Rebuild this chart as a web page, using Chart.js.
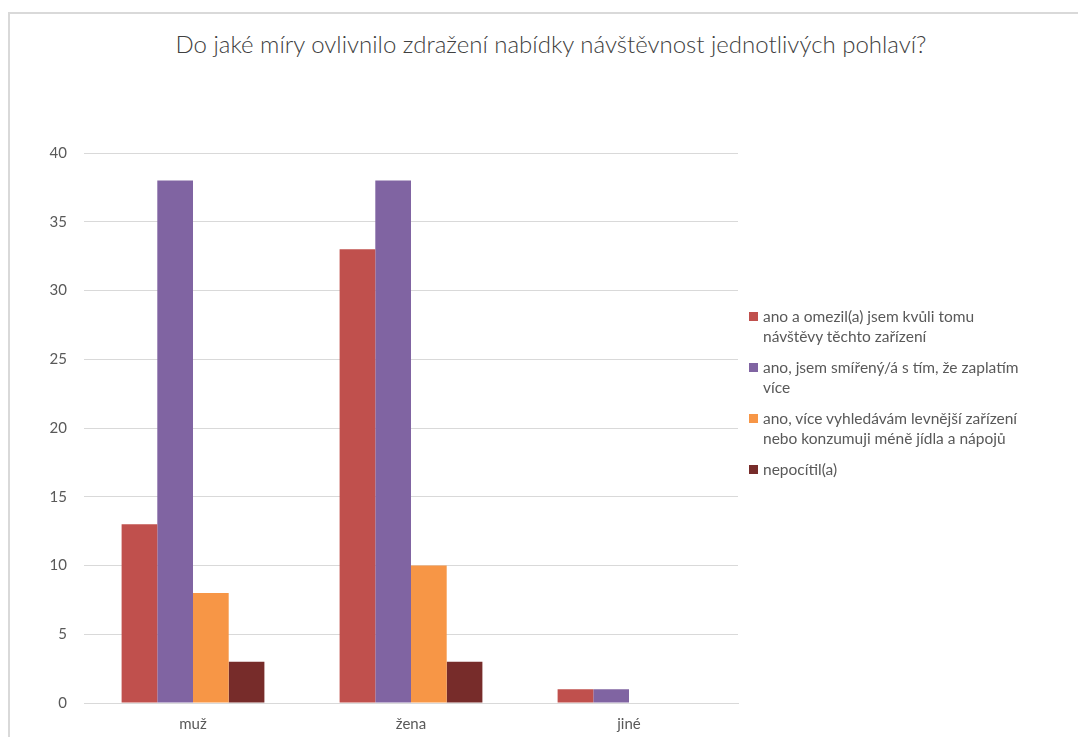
<!DOCTYPE html>
<html>
<head>
<meta charset="utf-8">
<script src="https://cdn.jsdelivr.net/npm/chart.js"></script>
<style>
  html, body { margin: 0; padding: 0; background: #fff; }
  body { width: 1078px; height: 737px; position: relative; overflow: hidden; font-family: Lato, "Open Sans", sans-serif; }
  #frame { position: absolute; left: 8px; top: 12px; width: 1200px; height: 800px; border-top: 2px solid #d9d9d9; border-left: 2px solid #d9d9d9; }
  #title { position: absolute; left: 0; top: 29px; width: 1102px; text-align: center; font-size: 24px; font-weight: 300; color: #404040; white-space: nowrap; }
  #chartWrap { position: absolute; left: 0; top: 0; width: 1078px; height: 737px; }
  #legend { position: absolute; left: 748px; top: 306px; width: 320px; font-size: 15.5px; color: #595959; }
  #legend .item { position: relative; padding-left: 15px; line-height: 20px; margin-bottom: 11px; white-space: pre-line; }
  #legend .sw { position: absolute; left: 1px; top: 6px; width: 9px; height: 9px; }
</style>
</head>
<body>
<div id="frame"></div>
<div id="title">Do jaké míry ovlivnilo zdražení nabídky návštěvnost jednotlivých pohlaví?</div>
<div id="chartWrap"><canvas id="c" width="1078" height="737"></canvas></div>
<div id="legend"></div>
<script>
const categories = ['muž', 'žena', 'jiné'];
const seriesLabels = [
  'ano a omezil(a) jsem kvůli tomu\nnávštěvy těchto zařízení',
  'ano, jsem smířený/á s tím, že zaplatím\nvíce',
  'ano, více vyhledávám levnější zařízení\nnebo konzumuji méně jídla a nápojů',
  'nepocítil(a)'
];
const omezil = [13, 33, 1];
const smireny = [38, 38, 1];
const levnejsi = [8, 10, 0];
const nepocitil = [3, 3, 0];
const colors = ['#C0504D', '#8064A2', '#F79646', '#772C2A'];

const seriesValues = [omezil, smireny, levnejsi, nepocitil];

const ctx = document.getElementById('c').getContext('2d');
const chart = new Chart(ctx, {
  type: 'bar',
  data: {
    labels: categories,
    datasets: seriesValues.map((vals, i) => ({
      label: seriesLabels[i],
      data: vals,
      backgroundColor: colors[i],
      borderWidth: 0,
      barPercentage: 1,
      categoryPercentage: 0.655
    }))
  },
  options: {
    responsive: false,
    animation: false,
    layout: { padding: { left: 8, right: 340, top: 153, bottom: 0 } },
    plugins: {
      legend: { display: false },
      title: { display: false },
      tooltip: { enabled: false }
    },
    scales: {
      x: {
        grid: { display: false, drawTicks: false },
        border: { display: true, color: '#d9d9d9', width: 1 },
        ticks: { color: '#595959', font: { family: 'Lato', size: 15 }, padding: 12 },
        afterFit: (s) => { s.height = 34; }
      },
      y: {
        min: 0,
        max: 40,
        ticks: { stepSize: 5, color: '#595959', font: { family: 'Lato', size: 15 }, padding: 17 },
        grid: { color: '#d9d9d9', lineWidth: 1, drawTicks: false },
        border: { display: false },
        afterFit: (s) => { s.width = 76; }
      }
    }
  }
});

// legend built from the chart's datasets
const legendEl = document.getElementById('legend');
chart.data.datasets.forEach(ds => {
  const item = document.createElement('div');
  item.className = 'item';
  const sw = document.createElement('span');
  sw.className = 'sw';
  sw.style.background = ds.backgroundColor;
  item.appendChild(sw);
  item.appendChild(document.createTextNode(ds.label));
  legendEl.appendChild(item);
});
</script>
</body>
</html>
